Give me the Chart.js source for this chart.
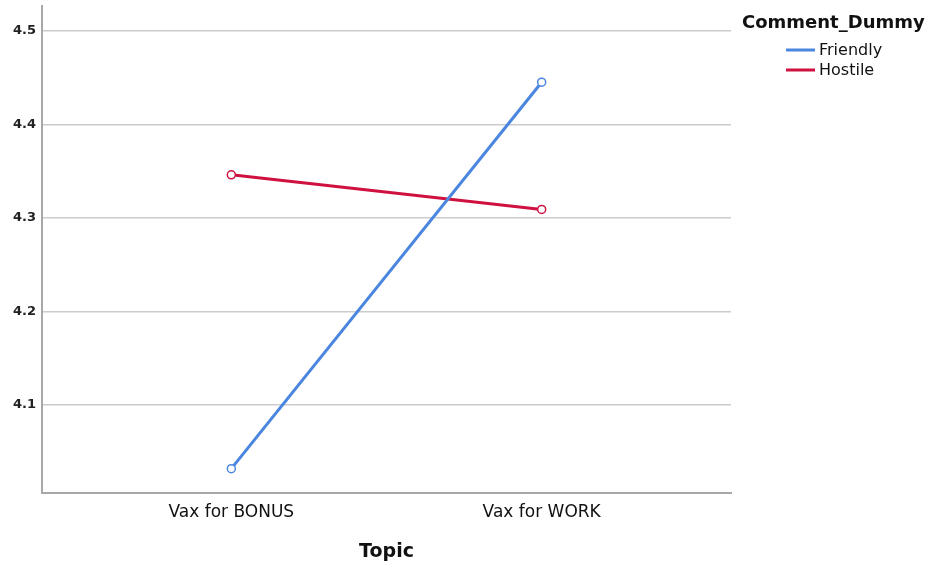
<!DOCTYPE html>
<html>
<head>
<meta charset="utf-8">
<script src="https://cdn.jsdelivr.net/npm/chart.js@4"></script>
<style>
  html, body { margin: 0; padding: 0; background: #fff; }
  #wrap { width: 935px; height: 570px; position: relative; }
</style>
</head>
<body>
<div id="wrap"><canvas id="chart"></canvas></div>
<script>
// data
const topics = ['Vax for BONUS', 'Vax for WORK'];
const friendly = [4.032, 4.445];
const hostile = [4.346, 4.309];
const yTicks = [4.1, 4.2, 4.3, 4.4, 4.5];
const legendTitle = 'Comment_Dummy';
const axisTitle = 'Topic';

const FONT = "'DejaVu Sans', sans-serif";

// legend drawn at top right, outside the plot
const sideLegend = {
    id: 'sideLegend',
    afterDraw(chart) {
        const ctx = chart.ctx;
        ctx.save();
        ctx.fillStyle = '#111';
        ctx.textBaseline = 'middle';
        ctx.textAlign = 'left';
        ctx.font = 'bold 18px ' + FONT;
        ctx.fillText(legendTitle, 742, 23);
        ctx.font = '16px ' + FONT;
        chart.data.datasets.forEach((ds, i) => {
            const y = 50 + i * 20;
            ctx.strokeStyle = ds.borderColor;
            ctx.lineWidth = 3;
            ctx.beginPath();
            ctx.moveTo(786, y);
            ctx.lineTo(815, y);
            ctx.stroke();
            ctx.fillStyle = '#111';
            ctx.fillText(ds.label, 819, y + 1);
        });
        ctx.restore();
    }
};

new Chart(document.getElementById('chart').getContext('2d'), {
    type: 'line',
    data: {
        datasets: [
            {
                label: 'Friendly',
                data: friendly.map((v, i) => ({ x: i, y: v })),
                borderColor: '#4a86e0',
                backgroundColor: '#ffffff',
                borderWidth: 3,
                pointRadius: 4,
                pointBorderWidth: 1.5,
                pointBackgroundColor: '#ffffff',
                pointBorderColor: '#4a86e0'
            },
            {
                label: 'Hostile',
                data: hostile.map((v, i) => ({ x: i, y: v })),
                borderColor: '#cf1140',
                backgroundColor: '#ffffff',
                borderWidth: 3,
                pointRadius: 4,
                pointBorderWidth: 1.5,
                pointBackgroundColor: '#ffffff',
                pointBorderColor: '#cf1140'
            }
        ]
    },
    options: {
        responsive: true,
        maintainAspectRatio: false,
        animation: false,
        layout: { padding: { top: 5, right: 204, left: 0, bottom: 0 } },
        plugins: {
            legend: { display: false },
            tooltip: { enabled: false }
        },
        scales: {
            x: {
                type: 'linear',
                min: -0.61,
                max: 1.61,
                afterBuildTicks: scale => { scale.ticks = topics.map((t, i) => ({ value: i })); },
                afterFit: scale => { scale.height = 77; },
                grid: { display: false, drawTicks: false },
                border: { color: '#a8a8a8', width: 2 },
                ticks: {
                    padding: 9,
                    color: '#111',
                    font: { family: FONT, size: 17 },
                    callback: v => topics[v],
                    maxRotation: 0
                },
                title: {
                    display: true,
                    text: axisTitle,
                    color: '#111',
                    font: { family: FONT, size: 19, weight: 'bold' },
                    padding: { top: 4, bottom: 7 }
                }
            },
            y: {
                min: 4.006,
                max: 4.527,
                afterBuildTicks: scale => { scale.ticks = yTicks.map(v => ({ value: v })); },
                afterFit: scale => {
                    scale.width = 42;
                    scale.paddingTop = 0;
                    scale.paddingBottom = 0;
                },
                grid: { color: '#cccccc', lineWidth: 1.5, drawTicks: false },
                border: { color: '#a8a8a8', width: 2 },
                ticks: {
                    padding: 6,
                    color: '#222',
                    font: { family: FONT, size: 13, weight: 'bold' },
                    callback: v => v.toFixed(1)
                }
            }
        }
    },
    plugins: [sideLegend]
});
</script>
</body>
</html>
